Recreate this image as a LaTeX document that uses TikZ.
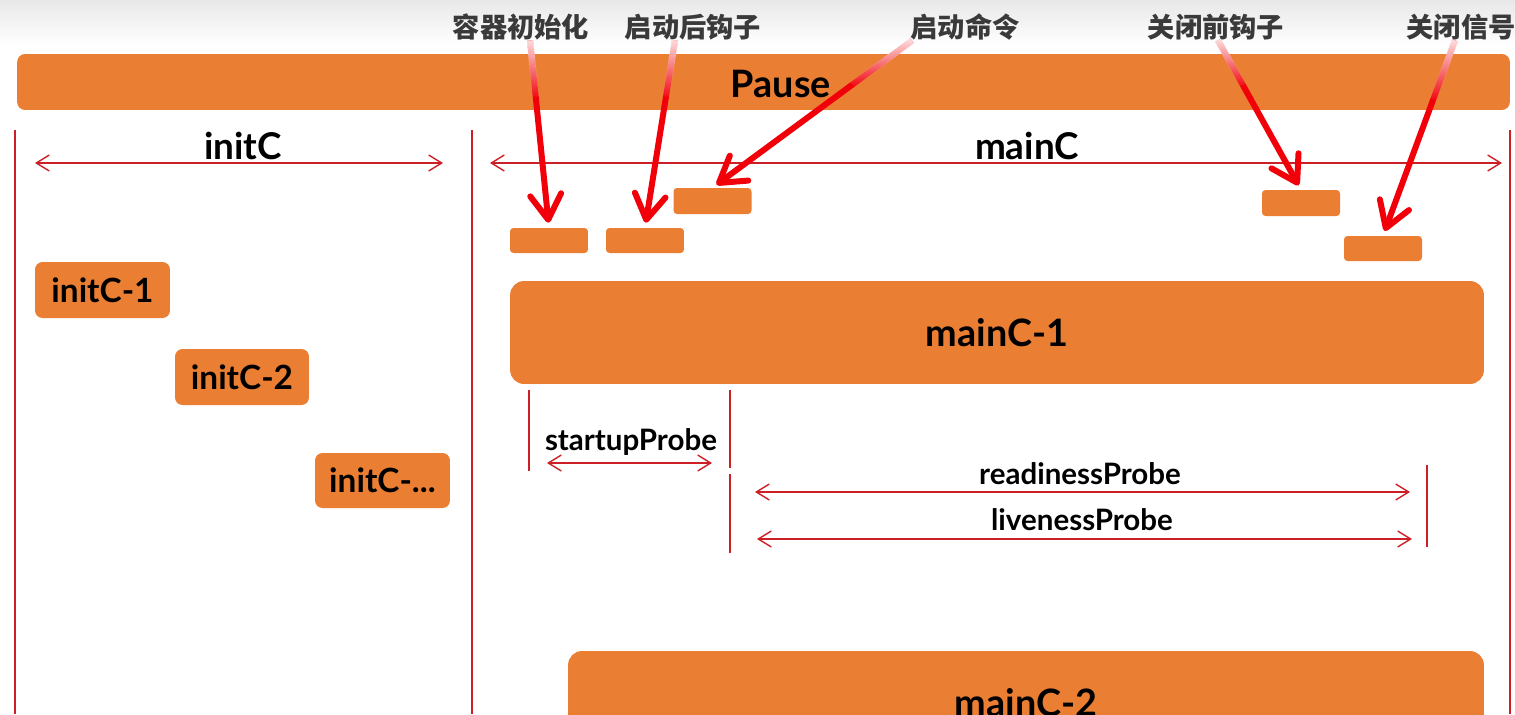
\documentclass[tikz,border=0pt]{standalone}
\usepackage{fontspec}
\setmainfont{Lato}
\newfontfamily\cjk{Noto Sans CJK SC}
\usetikzlibrary{arrows.meta,fadings,calc}
\definecolor{boxorange}{RGB}{234,126,50}
\definecolor{lineRed}{RGB}{204,32,38}
\definecolor{hookRed}{RGB}{242,0,10}
\definecolor{labelGray}{RGB}{58,58,58}
\tikzfading[name=fade down, top color=transparent!10, bottom color=transparent!100]
\tikzset{
  timebar/.style={fill=boxorange, rounded corners=0.16cm, inner sep=0pt,
    font=\fontsize{21.5}{26}\selectfont\bfseries},
  hookbox/.style={fill=boxorange, rounded corners=0.07cm, inner sep=0pt,
    minimum width=1.56cm, minimum height=0.5cm},
  spanline/.style={lineRed, line width=0.8pt,
    {Straight Barb[length=0.26cm,width=0.32cm]}-{Straight Barb[length=0.26cm,width=0.32cm]}},
  edgeline/.style={lineRed, line width=1.3pt},
  hookarrow/.style={hookRed, line width=0.12cm, shorten >=0.1cm,
    -{Straight Barb[length=0.5cm,width=0.62cm,round]}},
  hooklabel/.style={text=labelGray, inner sep=0pt, font=\cjk\fontsize{15.5}{18}\selectfont\bfseries},
  spanlabel/.style={inner sep=0pt, font=\fontsize{21}{25}\selectfont\bfseries},
  probelabel/.style={inner sep=0pt, font=\fontsize{16.8}{20}\selectfont\bfseries},
}
\begin{document}
\begin{tikzpicture}[x=0.02cm,y=-0.02cm]
    \clip (0,0) rectangle (1515,714);
    \fill[white] (0,0) rectangle (1515,714);
    \shade[top color=gray!18, bottom color=white] (0,0) rectangle (1515,46);
    %% pause container
    \node[timebar, minimum width=29.86cm, minimum height=1.12cm,
      label={[xshift=0.35cm,yshift=-0.04cm,font=\fontsize{21.5}{26}\selectfont\bfseries]center:Pause}]
      (pause) at (763.5,82) {};
    %% boundaries
    \draw[edgeline] (15,130) -- (15,714);
    \draw[edgeline] (472,130) -- (472,714);
    \draw[edgeline] (1510,130) -- (1510,714);
    %% spans
    \node[spanlabel] (initlbl) at (243,146) {initC};
    \draw[spanline] (35,163) -- (443,163);
    \node[spanlabel] (mainlbl) at (1027,146) {mainC};
    \draw[spanline] (490,163) -- (1502,163);
    %% hook boxes
    \node[hookbox] (b1) at (549,240.5) {};
    \node[hookbox] (b2) at (645,240.5) {};
    \node[hookbox, minimum height=0.52cm] (b3) at (712.5,201) {};
    \node[hookbox, minimum height=0.52cm] (b4) at (1301,203) {};
    \node[hookbox] (b5) at (1383,248.5) {};
    %% hook labels
    \node[hooklabel] (l1) at (521,27) {容器初始化};
    \node[hooklabel] (l2) at (693,27) {启动后钩子};
    \node[hooklabel] (l3) at (965,27) {启动命令};
    \node[hooklabel] (l4) at (1216,27) {关闭前钩子};
    \node[hooklabel] (l5) at (1461,27) {关闭信号};
    \foreach \lbl/\bx/\dx in {l1/b1/0.18cm, l2/b2/-0.36cm, l3/b3/-1.06cm, l4/b4/0.04cm, l5/b5/-0.12cm}{
        \draw[hookarrow] ([xshift=\dx]\lbl.south) -- (\bx.north);
        \draw[white, line width=0.13cm, path fading=fade down]
            ([xshift=\dx]\lbl.south) -- ($([xshift=\dx]\lbl.south)!0.3!(\bx.north)$);
    }
    %% init containers
    \node[timebar, rounded corners=0.15cm, minimum width=2.7cm, minimum height=1.12cm,
      font=\fontsize{19}{23}\selectfont\bfseries] (i1) at (102.5,290) {initC-1};
    \node[timebar, rounded corners=0.15cm, minimum width=2.68cm, minimum height=1.12cm,
      font=\fontsize{19}{23}\selectfont\bfseries] (i2) at (242,377) {initC-2};
    \node[timebar, rounded corners=0.15cm, minimum width=2.7cm, minimum height=1.1cm,
      font=\fontsize{19}{23}\selectfont\bfseries] (i3) at (382.5,480.5) {initC-...};
    %% main containers
    \node[timebar, rounded corners=0.28cm, minimum width=19.48cm, minimum height=2.06cm] (m1) at (997,332.5) {mainC-1};
    \node[timebar, rounded corners=0.28cm, minimum width=18.32cm, minimum height=2.08cm] (m2) at (1026,703) {mainC-2};
    %% probes
    \draw[edgeline] (529,390) -- (529,471);
    \draw[edgeline] (730,390) -- (730,468);
    \draw[edgeline] (730,474) -- (730,553);
    \draw[edgeline] (1427,465) -- (1427,547);
    \node[probelabel] (startlbl) at (631,442) {startupProbe};
    \draw[spanline] (547,463) -- (712,463);
    \node[probelabel] (readlbl) at (1080,474) {readinessProbe};
    \draw[spanline] (755,492) -- (1410,492);
    \node[probelabel] (livelbl) at (1082,520) {livenessProbe};
    \draw[spanline] (757,539) -- (1412,539);
\end{tikzpicture}
\end{document}
